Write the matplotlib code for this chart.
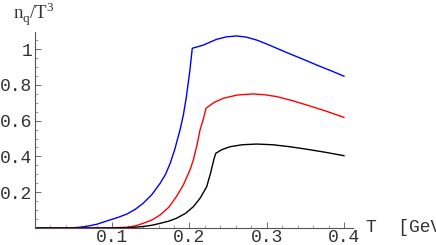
import matplotlib
matplotlib.use("Agg")
import matplotlib.pyplot as plt
from matplotlib.ticker import MultipleLocator

# values
T_blue = [0.0, 0.045, 0.06, 0.07, 0.08, 0.097, 0.108, 0.119, 0.130, 0.140, 0.151, 0.162,
          0.169, 0.175, 0.181, 0.1877, 0.192, 0.196, 0.2006, 0.2036, 0.218, 0.235, 0.248,
          0.261, 0.274, 0.287, 0.30, 0.313, 0.326, 0.339, 0.352, 0.365, 0.383, 0.4]
n_blue = [0.0, 0.0, 0.005, 0.012, 0.021, 0.045, 0.06, 0.078, 0.105, 0.138, 0.185, 0.25,
          0.30, 0.361, 0.44, 0.547, 0.63, 0.733, 0.883, 1.004, 1.022, 1.054, 1.068,
          1.073, 1.066, 1.05, 1.028, 1.004, 0.98, 0.957, 0.934, 0.91, 0.879, 0.848]

T_red = [0.0, 0.07, 0.09, 0.105, 0.119, 0.130, 0.140, 0.152, 0.162, 0.173, 0.183, 0.192,
         0.2006, 0.205, 0.2095, 0.2136, 0.218, 0.2214, 0.232, 0.244, 0.262, 0.2826, 0.298,
         0.313, 0.332, 0.352, 0.376, 0.4]
n_red = [0.0, 0.0, 0.001, 0.002, 0.004, 0.012, 0.026, 0.046, 0.073, 0.115, 0.175, 0.24,
         0.324, 0.38, 0.46, 0.547, 0.61, 0.669, 0.702, 0.725, 0.743, 0.749, 0.744,
         0.734, 0.713, 0.687, 0.654, 0.618]

T_black = [0.0, 0.09, 0.11, 0.125, 0.14, 0.152, 0.162, 0.173, 0.183, 0.195, 0.205, 0.214,
           0.2223, 0.2275, 0.2317, 0.234, 0.242, 0.2524, 0.268, 0.287, 0.308, 0.330, 0.352,
           0.376, 0.4]
n_black = [0.0, 0.0, 0.001, 0.003, 0.008, 0.016, 0.026, 0.038, 0.054, 0.082, 0.119, 0.168,
           0.231, 0.31, 0.385, 0.417, 0.438, 0.454, 0.465, 0.469, 0.465, 0.454, 0.44,
           0.423, 0.404]

xticks = [0.1, 0.2, 0.3, 0.4]
yticks = [0.2, 0.4, 0.6, 0.8, 1.0]
ytick_labels = ["0.2", "0.4", "0.6", "0.8", "1"]

fig = plt.figure(figsize=(4.36, 2.45), dpi=100)
ax = fig.add_axes([35 / 436, (245 - 228) / 245, (353 - 35) / 436, (228 - 32) / 245])

ax.plot(T_blue, n_blue, color="blue", lw=1.0)
ax.plot(T_red, n_red, color="red", lw=1.0)
ax.plot(T_black, n_black, color="black", lw=1.0)

ax.set_xlim(0, 0.4117)
ax.set_ylim(0, 1.095)

for s in ["top", "right"]:
    ax.spines[s].set_visible(False)
for s in ["left", "bottom"]:
    ax.spines[s].set_color("#555555")
    ax.spines[s].set_linewidth(0.8)

mono = "Liberation Mono"
ax.set_xticks(xticks)
ax.set_xticklabels([str(t) for t in xticks], fontfamily=mono, fontsize=13, color="#333333")
ax.set_yticks(yticks)
ax.set_yticklabels(ytick_labels, fontfamily=mono, fontsize=13, color="#333333")
ax.xaxis.set_minor_locator(MultipleLocator(0.02))
ax.yaxis.set_minor_locator(MultipleLocator(0.05))
ax.tick_params(which="major", direction="in", length=4, width=0.6, color="#555555")
ax.tick_params(which="minor", direction="in", length=2, width=0.5, color="#777777")
ax.tick_params(axis="x", which="major", pad=0.5)
ax.tick_params(axis="y", which="major", pad=2)

# axis label runs off the right edge, as in the original
fig.text(366 / 436, 1 - 232 / 245, "T  [GeV]", fontfamily=mono, fontsize=13,
         color="#333333", ha="left", va="baseline")
fig.text(34 / 436, 1 - 14 / 245, r"n$_\mathregular{q}$/T$^\mathregular{3}$",
         fontfamily="Liberation Serif", fontsize=13.5, color="#333333",
         ha="center", va="center")

fig.savefig("out.png", dpi=100)
